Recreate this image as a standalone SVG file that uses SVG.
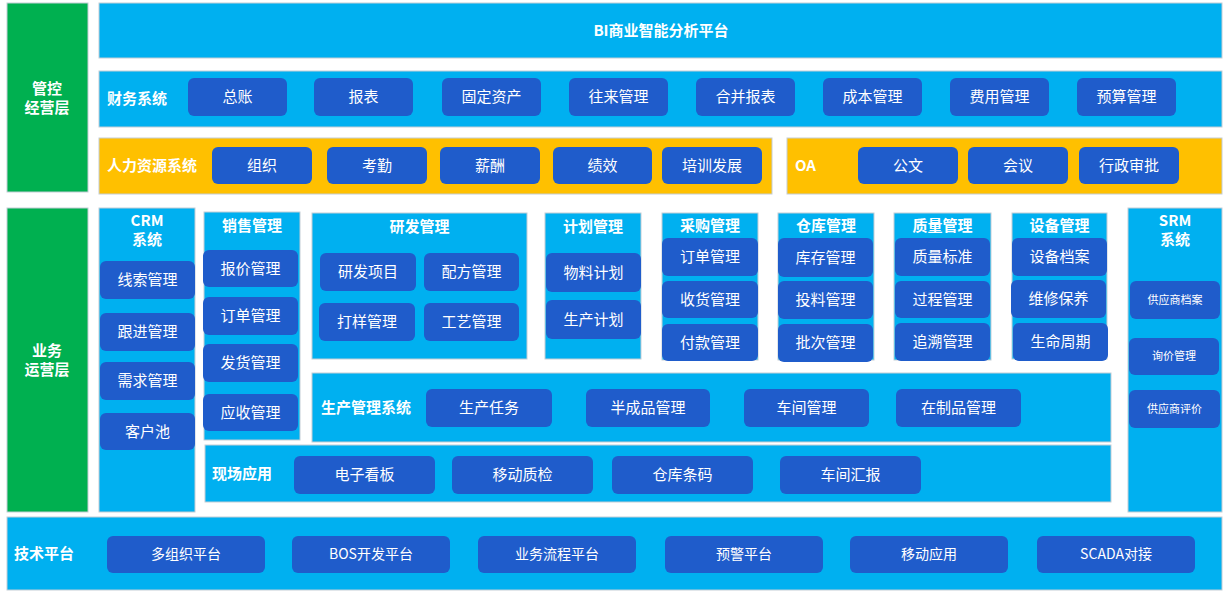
<svg xmlns="http://www.w3.org/2000/svg" width="1224" height="591" viewBox="0 0 1224 591">
<style>
.bg{fill:#ffffff}
.panel{fill:#00B0F0;stroke:#C3CDD5;stroke-width:1}
.orange{fill:#FFC000;stroke:#C3CDD5;stroke-width:1}
.green{fill:#00B050;stroke:#C3CDD5;stroke-width:1}
.btn{fill:#1F5CCB}
text{font-family:"Noto Sans CJK SC","Noto Sans",sans-serif;fill:#ffffff;dominant-baseline:central;transform:translateY(-1.5px)}
.c{text-anchor:middle;font-size:15px}
.s{text-anchor:middle;font-size:14px}
.xs{text-anchor:middle;font-size:11px}
.h{font-weight:bold;font-size:15px}
.hc{font-weight:bold;font-size:15px;text-anchor:middle}
</style>
<rect class="bg" x="0" y="0" width="1224" height="591"/>

<g id="layer-mgmt">
<rect class="green" x="7" y="3" width="81" height="189"/>
<text class="hc" x="47" y="88.5">管控</text>
<text class="hc" x="47" y="107.5">经营层</text>
</g>
<g id="layer-biz">
<rect class="green" x="7" y="208" width="81" height="304"/>
<text class="hc" x="47" y="350.5">业务</text>
<text class="hc" x="47" y="369.5">运营层</text>
</g>

<g id="bi">
<rect class="panel" x="99" y="3" width="1123" height="55"/>
<text class="hc" x="661" y="31">BI商业智能分析平台</text>
</g>

<g id="finance">
<rect class="panel" x="99" y="71" width="1123" height="56"/>
<text class="h" x="107" y="99">财务系统</text>
<rect class="btn" x="188" y="78" width="99" height="38" rx="6"/><text class="c" x="237.5" y="97">总账</text>
<rect class="btn" x="314" y="78" width="99" height="38" rx="6"/><text class="c" x="363.5" y="97">报表</text>
<rect class="btn" x="442" y="78" width="99" height="38" rx="6"/><text class="c" x="491.5" y="97">固定资产</text>
<rect class="btn" x="569" y="78" width="99" height="38" rx="6"/><text class="c" x="618.5" y="97">往来管理</text>
<rect class="btn" x="696" y="78" width="99" height="38" rx="6"/><text class="c" x="745.5" y="97">合并报表</text>
<rect class="btn" x="823" y="78" width="99" height="38" rx="6"/><text class="c" x="872.5" y="97">成本管理</text>
<rect class="btn" x="950" y="78" width="99" height="38" rx="6"/><text class="c" x="999.5" y="97">费用管理</text>
<rect class="btn" x="1077" y="78" width="99" height="38" rx="6"/><text class="c" x="1126.5" y="97">预算管理</text>
</g>

<g id="hr">
<rect class="orange" x="99" y="138" width="673" height="56"/>
<text class="h" x="107" y="166">人力资源系统</text>
<rect class="btn" x="212" y="147" width="100" height="37" rx="6"/><text class="c" x="262" y="165.5">组织</text>
<rect class="btn" x="327" y="147" width="100" height="37" rx="6"/><text class="c" x="377" y="165.5">考勤</text>
<rect class="btn" x="440" y="147" width="100" height="37" rx="6"/><text class="c" x="490" y="165.5">薪酬</text>
<rect class="btn" x="553" y="147" width="99" height="37" rx="6"/><text class="c" x="602.5" y="165.5">绩效</text>
<rect class="btn" x="662" y="147" width="100" height="37" rx="6"/><text class="c" x="712" y="165.5">培训发展</text>
</g>

<g id="oa">
<rect class="orange" x="787" y="138" width="435" height="56"/>
<text class="h" x="795" y="166">OA</text>
<rect class="btn" x="858" y="147" width="100" height="37" rx="6"/><text class="c" x="908" y="165.5">公文</text>
<rect class="btn" x="968" y="147" width="100" height="37" rx="6"/><text class="c" x="1018" y="165.5">会议</text>
<rect class="btn" x="1079" y="147" width="100" height="37" rx="6"/><text class="c" x="1129" y="165.5">行政审批</text>
</g>

<g id="crm">
<rect class="panel" x="99" y="208" width="96" height="304"/>
<text class="hc" x="147" y="221">CRM</text>
<text class="hc" x="147" y="240">系统</text>
<rect class="btn" x="100" y="261" width="95" height="38" rx="6"/><text class="c" x="147.5" y="280">线索管理</text>
<rect class="btn" x="100" y="313" width="95" height="38" rx="6"/><text class="c" x="147.5" y="332">跟进管理</text>
<rect class="btn" x="100" y="362" width="95" height="38" rx="6"/><text class="c" x="147.5" y="381">需求管理</text>
<rect class="btn" x="100" y="413" width="95" height="37" rx="6"/><text class="c" x="147.5" y="431.5">客户池</text>
</g>

<g id="sales">
<rect class="panel" x="204" y="212" width="96" height="228"/>
<text class="hc" x="252" y="226">销售管理</text>
<rect class="btn" x="203" y="250" width="95" height="37" rx="6"/><text class="c" x="250.5" y="268.5">报价管理</text>
<rect class="btn" x="203" y="297" width="95" height="38" rx="6"/><text class="c" x="250.5" y="316">订单管理</text>
<rect class="btn" x="203" y="344" width="95" height="38" rx="6"/><text class="c" x="250.5" y="363">发货管理</text>
<rect class="btn" x="203" y="394" width="95" height="37" rx="6"/><text class="c" x="250.5" y="412.5">应收管理</text>
</g>

<g id="rd">
<rect class="panel" x="312" y="213" width="215" height="146"/>
<text class="hc" x="419.5" y="227">研发管理</text>
<rect class="btn" x="320" y="253" width="96" height="38" rx="6"/><text class="c" x="368" y="272">研发项目</text>
<rect class="btn" x="424" y="253" width="95" height="38" rx="6"/><text class="c" x="471.5" y="272">配方管理</text>
<rect class="btn" x="319" y="303" width="96" height="38" rx="6"/><text class="c" x="367" y="322">打样管理</text>
<rect class="btn" x="424" y="303" width="95" height="38" rx="6"/><text class="c" x="471.5" y="322">工艺管理</text>
</g>

<g id="plan">
<rect class="panel" x="545" y="213" width="96" height="146"/>
<text class="hc" x="593" y="227">计划管理</text>
<rect class="btn" x="546" y="253" width="95" height="39" rx="6"/><text class="c" x="593.5" y="272.5">物料计划</text>
<rect class="btn" x="546" y="300" width="95" height="39" rx="6"/><text class="c" x="593.5" y="319.5">生产计划</text>
</g>

<g id="purchase">
<rect class="panel" x="662" y="213" width="96" height="147"/>
<text class="hc" x="710" y="226">采购管理</text>
<rect class="btn" x="662" y="238" width="96" height="38" rx="6"/><text class="c" x="710" y="257">订单管理</text>
<rect class="btn" x="662" y="281" width="96" height="37" rx="6"/><text class="c" x="710" y="299.5">收货管理</text>
<rect class="btn" x="662" y="324" width="96" height="37" rx="6"/><text class="c" x="710" y="342.5">付款管理</text>
</g>

<g id="warehouse">
<rect class="panel" x="778" y="213" width="96" height="147"/>
<text class="hc" x="826" y="226">仓库管理</text>
<rect class="btn" x="778" y="238" width="95" height="39" rx="6"/><text class="c" x="825.5" y="257.5">库存管理</text>
<rect class="btn" x="778" y="281" width="95" height="38" rx="6"/><text class="c" x="825.5" y="300">投料管理</text>
<rect class="btn" x="778" y="324" width="95" height="38" rx="6"/><text class="c" x="825.5" y="343">批次管理</text>
</g>

<g id="quality">
<rect class="panel" x="894" y="213" width="97" height="147"/>
<text class="hc" x="942.5" y="226">质量管理</text>
<rect class="btn" x="895" y="238" width="95" height="38" rx="6"/><text class="c" x="942.5" y="257">质量标准</text>
<rect class="btn" x="895" y="281" width="95" height="37" rx="6"/><text class="c" x="942.5" y="299.5">过程管理</text>
<rect class="btn" x="895" y="323" width="95" height="38" rx="6"/><text class="c" x="942.5" y="342">追溯管理</text>
</g>

<g id="equipment">
<rect class="panel" x="1012" y="213" width="95" height="146"/>
<text class="hc" x="1059.5" y="226">设备管理</text>
<rect class="btn" x="1012" y="238" width="95" height="38" rx="6"/><text class="c" x="1059.5" y="257">设备档案</text>
<rect class="btn" x="1011" y="280" width="95" height="38" rx="6"/><text class="c" x="1058.5" y="299">维修保养</text>
<rect class="btn" x="1013" y="323" width="95" height="38" rx="6"/><text class="c" x="1060.5" y="342">生命周期</text>
</g>

<g id="srm">
<rect class="panel" x="1128" y="208" width="94" height="304"/>
<text class="hc" x="1175" y="221">SRM</text>
<text class="hc" x="1175" y="240">系统</text>
<rect class="btn" x="1130" y="281" width="90" height="38" rx="6"/><text class="xs" x="1175" y="300">供应商档案</text>
<rect class="btn" x="1129" y="338" width="90" height="37" rx="6"/><text class="xs" x="1174" y="356.5">询价管理</text>
<rect class="btn" x="1129" y="390" width="91" height="38" rx="6"/><text class="xs" x="1174.5" y="409">供应商评价</text>
</g>

<g id="production">
<rect class="panel" x="312" y="373" width="799" height="69"/>
<text class="h" x="321" y="408">生产管理系统</text>
<rect class="btn" x="426" y="389" width="126" height="38" rx="6"/><text class="c" x="489" y="408">生产任务</text>
<rect class="btn" x="586" y="389" width="124" height="38" rx="6"/><text class="c" x="648" y="408">半成品管理</text>
<rect class="btn" x="744" y="389" width="125" height="38" rx="6"/><text class="c" x="806.5" y="408">车间管理</text>
<rect class="btn" x="896" y="389" width="125" height="38" rx="6"/><text class="c" x="958.5" y="408">在制品管理</text>
</g>

<g id="field">
<rect class="panel" x="205" y="445" width="906" height="57"/>
<text class="h" x="212" y="474">现场应用</text>
<rect class="btn" x="294" y="456" width="141" height="38" rx="6"/><text class="c" x="364.5" y="475">电子看板</text>
<rect class="btn" x="452" y="456" width="141" height="38" rx="6"/><text class="c" x="522.5" y="475">移动质检</text>
<rect class="btn" x="612" y="456" width="141" height="38" rx="6"/><text class="c" x="682.5" y="475">仓库条码</text>
<rect class="btn" x="780" y="456" width="141" height="38" rx="6"/><text class="c" x="850.5" y="475">车间汇报</text>
</g>

<g id="tech">
<rect class="panel" x="7" y="517" width="1215" height="73"/>
<text class="h" x="14" y="554">技术平台</text>
<rect class="btn" x="107" y="536" width="158" height="37" rx="6"/><text class="s" x="186" y="554.5">多组织平台</text>
<rect class="btn" x="292" y="536" width="158" height="37" rx="6"/><text class="s" x="371" y="554.5">BOS开发平台</text>
<rect class="btn" x="478" y="536" width="158" height="37" rx="6"/><text class="s" x="557" y="554.5">业务流程平台</text>
<rect class="btn" x="665" y="536" width="158" height="37" rx="6"/><text class="s" x="744" y="554.5">预警平台</text>
<rect class="btn" x="850" y="536" width="158" height="37" rx="6"/><text class="s" x="929" y="554.5">移动应用</text>
<rect class="btn" x="1037" y="536" width="158" height="37" rx="6"/><text class="s" x="1116" y="554.5">SCADA对接</text>
</g>

<g id="connectors"/>
</svg>
